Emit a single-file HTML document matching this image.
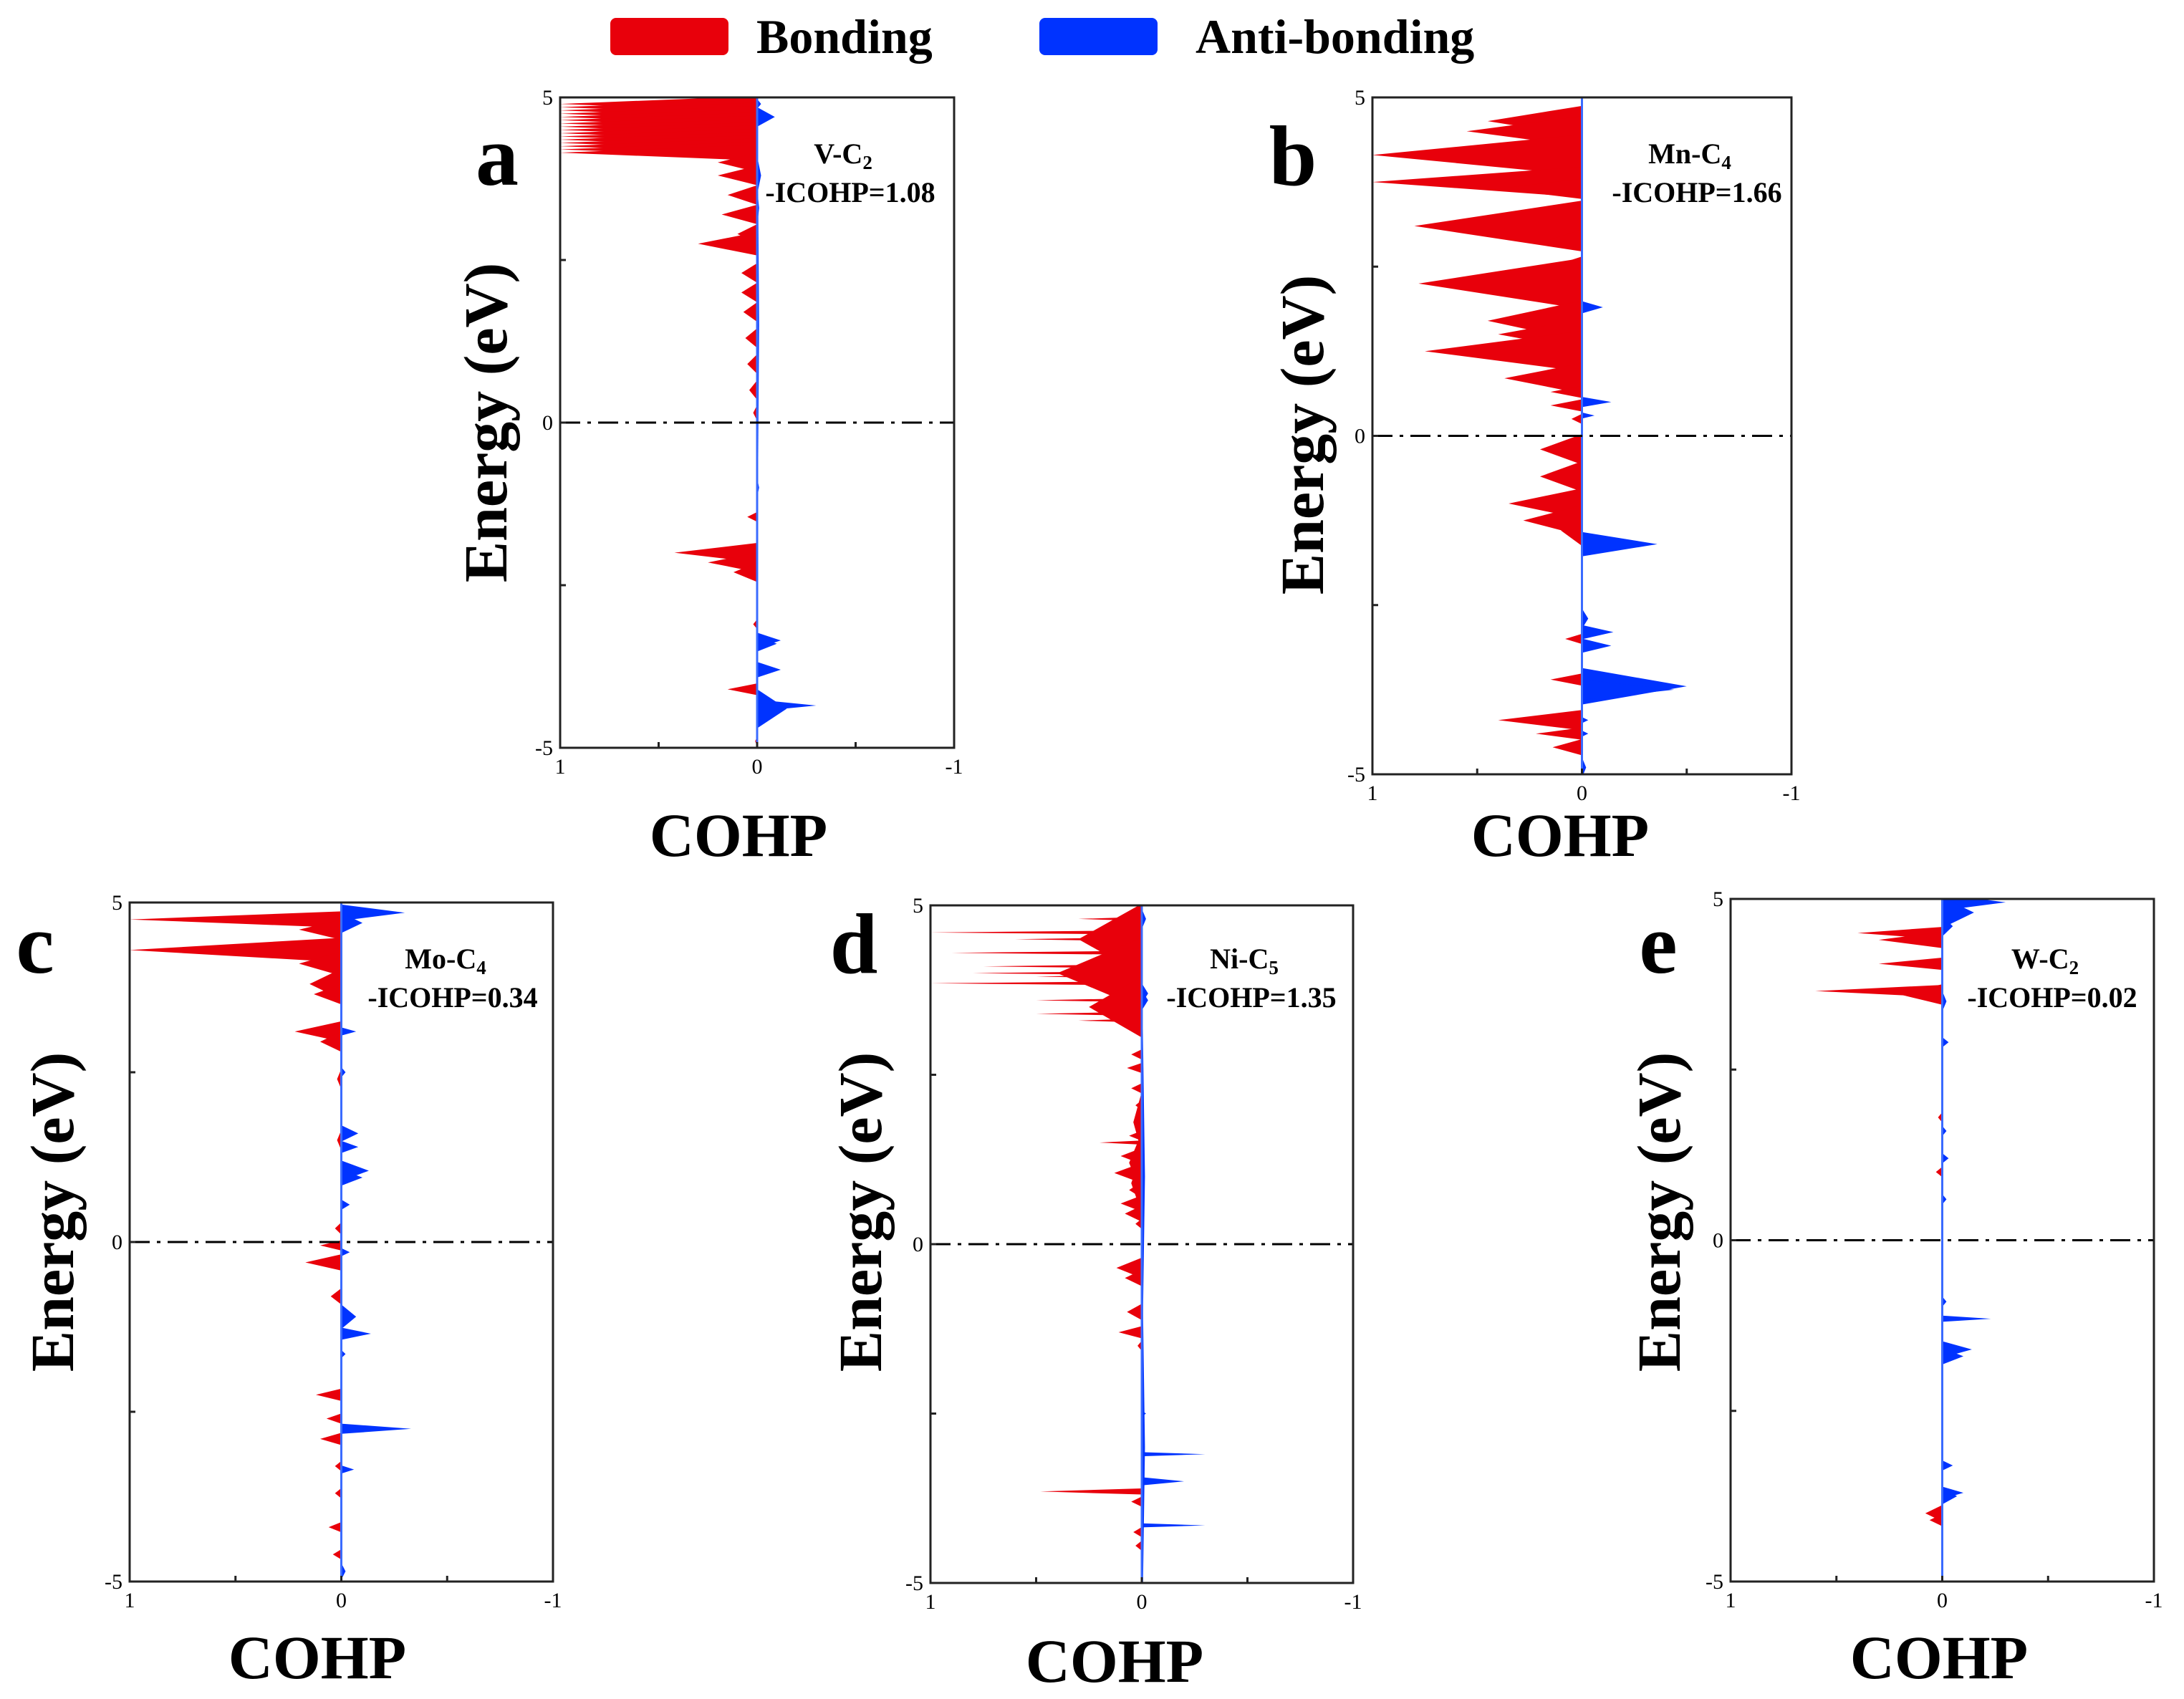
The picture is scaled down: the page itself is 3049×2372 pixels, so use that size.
<!DOCTYPE html>
<html><head><meta charset="utf-8"><style>
html,body{margin:0;padding:0;background:#fff;}
svg{display:block;}
text{font-family:"Liberation Serif",serif;}
</style></head><body>
<svg id="fig" width="3049" height="2372" viewBox="0 0 3049 2372" xmlns="http://www.w3.org/2000/svg">
  <g>
    <rect x="852" y="25" width="165" height="52" rx="8" fill="#e8000b"/>
    <text x="1056" y="74" font-size="68" font-weight="bold">Bonding</text>
    <rect x="1451" y="25" width="165" height="52" rx="8" fill="#0033ff"/>
    <text x="1669" y="74" font-size="68" font-weight="bold">Anti-bonding</text>
  </g>
</svg>
<script>
// ---- data (energy in eV, COHP value, half-width in eV) ----
const aRedE=[4.9,4.85,4.8,4.75,4.7,4.65,4.6,4.55,4.5,4.45,4.4,4.35,4.3,4.25,4.2,4.15,4.0,3.8,3.5,3.2,2.9,2.75,2.3,2.0,1.7,1.3,0.9,0.5,0.15,-1.45,-2.0,-2.15,-2.3,-3.1,-4.1,-4.9];
const aRedV=[1,1,1,1,1,1,1,1,1,1,1,1,1,1,1,1,0.2,0.2,0.15,0.18,0.1,0.3,0.08,0.08,0.07,0.06,0.05,0.04,0.02,0.05,0.42,0.25,0.12,0.02,0.15,0.01];
const aRedW=[0.08,0.08,0.08,0.08,0.08,0.08,0.08,0.08,0.08,0.08,0.08,0.08,0.08,0.08,0.08,0.08,0.1,0.1,0.1,0.1,0.1,0.12,0.1,0.1,0.1,0.1,0.1,0.1,0.08,0.05,0.1,0.1,0.1,0.05,0.06,0.05];
const aBlueE=[4.7,4.9,3.8,3.3,-1.0,-3.35,-3.4,-3.8,-4.35,-4.4,1.5];
const aBlueV=[-0.09,-0.02,-0.02,-0.01,-0.01,-0.12,-0.1,-0.12,-0.3,-0.15,-0.01];
const aBlueW=[0.1,0.05,0.2,0.2,0.1,0.08,0.08,0.08,0.06,0.2,3];

const bRedE=[4.65,4.5,4.15,3.75,3.65,3.1,2.9,2.5,2.25,1.7,1.5,1.25,0.85,0.65,0.45,0.25,-0.2,-0.6,-1.0,-1.25,-1.4,-3.0,-3.6,-4.2,-4.4,-4.6];
const bRedV=[0.45,0.55,1.0,1.0,0.4,0.8,0.15,0.15,0.78,0.45,0.4,0.75,0.37,0.15,0.15,0.05,0.2,0.2,0.35,0.28,0.1,0.08,0.15,0.4,0.22,0.14];
const bRedW=[0.15,0.15,0.2,0.15,0.1,0.25,0.1,0.1,0.25,0.2,0.15,0.2,0.15,0.06,0.06,0.05,0.15,0.15,0.15,0.15,0.15,0.05,0.06,0.1,0.06,0.08];
const bBlueE=[1.9,0.5,0.3,-1.6,-2.7,-2.9,-3.1,-3.7,-3.75,-4.2,-4.4,-4.9];
const bBlueV=[-0.1,-0.14,-0.06,-0.36,-0.03,-0.15,-0.14,-0.5,-0.44,-0.03,-0.03,-0.02];
const bBlueW=[0.06,0.05,0.03,0.12,0.1,0.07,0.07,0.18,0.1,0.03,0.03,0.1];

const cRedE=[4.75,4.6,4.3,4.1,3.8,3.65,3.1,2.95,2.4,1.5,0.2,-0.05,-0.3,-0.8,-2.25,-2.6,-2.9,-3.3,-3.7,-4.2,-4.6];
const cRedV=[1.0,0.2,1.0,0.2,0.15,0.13,0.22,0.1,0.02,0.02,0.03,0.1,0.17,0.05,0.12,0.07,0.1,0.03,0.03,0.06,0.04];
const cRedW=[0.08,0.1,0.12,0.12,0.15,0.1,0.1,0.1,0.1,0.1,0.06,0.05,0.08,0.08,0.06,0.05,0.06,0.05,0.05,0.05,0.05];
const cBlueE=[4.85,4.7,3.1,2.5,1.6,1.4,1.05,0.95,0.55,-0.15,-1.1,-1.35,-1.65,-2.75,-3.35,-4.85];
const cBlueV=[-0.3,-0.1,-0.07,-0.02,-0.08,-0.08,-0.13,-0.1,-0.04,-0.04,-0.07,-0.14,-0.02,-0.33,-0.06,-0.02];
const cBlueW=[0.08,0.1,0.04,0.05,0.08,0.06,0.1,0.08,0.05,0.04,0.12,0.06,0.04,0.05,0.04,0.08];

const dRedE=[4.8,4.6,4.5,4.3,4.1,4.0,3.95,3.85,3.6,3.4,3.3,4.5,4.0,3.5,2.8,2.6,2.3,2.05,1.6,1.5,1.3,1.05,0.8,0.6,0.45,0.3,-0.35,-0.5,-1.0,-1.3,-1.5,-3.65,-3.8,-4.25,-4.45,1.2,0.9,1.8];
const dRedV=[0.3,1.0,0.6,0.9,0.75,0.8,0.5,1.0,0.5,0.5,0.3,0.3,0.4,0.25,0.05,0.07,0.05,0.03,0.06,0.2,0.1,0.13,0.06,0.1,0.08,0.03,0.12,0.08,0.07,0.11,0.02,0.48,0.05,0.04,0.03,0.06,0.05,0.04];
const dRedW=[0.02,0.02,0.02,0.02,0.02,0.02,0.02,0.02,0.02,0.02,0.02,0.35,0.35,0.3,0.05,0.05,0.05,0.05,0.05,0.02,0.08,0.1,0.08,0.08,0.08,0.05,0.1,0.08,0.08,0.06,0.05,0.03,0.05,0.05,0.05,0.3,0.3,0.3];
const dBlueE=[4.8,3.7,3.6,-3.1,-3.5,-4.15,-2.5,1.0,-3.0];
const dBlueV=[-0.02,-0.03,-0.03,-0.3,-0.2,-0.3,-0.02,-0.015,-0.015];
const dBlueW=[0.1,0.1,0.1,0.02,0.04,0.02,0.03,2.2,2.2];

const eRedE=[4.5,4.4,4.05,3.65,3.6,1.8,1.0,-4.0,-4.1];
const eRedV=[0.4,0.3,0.3,0.6,0.2,0.02,0.03,0.08,0.06];
const eRedW=[0.06,0.08,0.06,0.06,0.1,0.05,0.05,0.08,0.06];
const eBlueE=[4.95,4.8,4.6,3.5,2.9,1.6,1.2,0.6,-0.9,-1.15,-1.6,-1.7,-3.3,-3.7,-3.75];
const eBlueV=[-0.3,-0.15,-0.05,-0.02,-0.03,-0.02,-0.03,-0.02,-0.02,-0.23,-0.14,-0.1,-0.05,-0.1,-0.07];
const eBlueW=[0.08,0.15,0.1,0.1,0.05,0.05,0.05,0.05,0.05,0.03,0.08,0.08,0.05,0.06,0.08];

const yTicks=[5,0,-5];
const xTicks=[1,0,-1];
const labels=["a","b","c","d","e"];
const bondNames=["V-C","Mn-C","Mo-C","Ni-C","W-C"];
const bondSubs=["2","4","4","5","2"];
const icohp=["1.08","1.66","0.34","1.35","0.02"];

// ---- layout (styling) ----
const WSCALE=1.5;
const layout=[
 {x0:782,x1:1332,y0:136,y1:1044,lx:694,ly:258,ex:677,ey:590,cx:1031,cy:1195,ax:1177,ay:228},
 {x0:1916,x1:2501,y0:136,y1:1081,lx:1805,ly:258,ex:1817,ey:607,cx:2178,cy:1195,ax:2359,ay:228},
 {x0:181,x1:772,y0:1260,y1:2208,lx:49,ly:1358,ex:72,ey:1692,cx:443,cy:2343,ax:622,ay:1352},
 {x0:1299,x1:1889,y0:1264,y1:2210,lx:1192,ly:1358,ex:1200,ey:1692,cx:1556,cy:2348,ax:1737,ay:1352},
 {x0:2416,x1:3007,y0:1255,y1:2208,lx:2315,ly:1358,ex:2315,ey:1692,cx:2707,cy:2343,ax:2855,ay:1352}
];
const series=[
 [aRedE,aRedV,aRedW,aBlueE,aBlueV,aBlueW],
 [bRedE,bRedV,bRedW,bBlueE,bBlueV,bBlueW],
 [cRedE,cRedV,cRedW,cBlueE,cBlueV,cBlueW],
 [dRedE,dRedV,dRedW,dBlueE,dBlueV,dBlueW],
 [eRedE,eRedV,eRedW,eBlueE,eBlueV,eBlueW]
];
const NS="http://www.w3.org/2000/svg";
const svg=document.getElementById('fig');
function mk(tag,attrs,parent){const el=document.createElementNS(NS,tag);for(const k in attrs)el.setAttribute(k,attrs[k]);(parent||svg).appendChild(el);return el;}

layout.forEach((L,i)=>{
  const g=mk('g',{});
  
  
  const X=v=>L.x0+(1-v)/2*(L.x1-L.x0);
  const Y=e=>L.y0+(5-e)/10*(L.y1-L.y0);
  const cp=mk('clipPath',{id:'clip'+i},g);
  mk('rect',{x:L.x0,y:L.y0,width:L.x1-L.x0,height:L.y1-L.y0},cp);
  const S=series[i];
  const drawPeaks=(E,V,W,color,name)=>{
    const sg=mk('g',{'clip-path':'url(#clip'+i+')'},g);
    
    
    E.forEach((e,k)=>{
      const w=W[k]*WSCALE;
      const p=mk('polygon',{points:`${X(0)},${Y(e+w)} ${X(V[k])},${Y(e)} ${X(0)},${Y(e-w)}`,fill:color},sg);
      
      
    });
  };
  drawPeaks(S[0],S[1],S[2],'#e8000b','bonding-series');
  drawPeaks(S[3],S[4],S[5],'#0033ff','antibonding-series');
  const zl=mk('line',{x1:X(0),x2:X(0),y1:L.y0,y2:L.y1,stroke:'#3a6bff','stroke-width':3},g);
  
  
  const fl=mk('line',{x1:L.x0,x2:L.x1,y1:Y(0),y2:Y(0),stroke:'#000','stroke-width':3,'stroke-dasharray':'28 10 5 10'},g);
  
  
  const fr=mk('rect',{x:L.x0,y:L.y0,width:L.x1-L.x0,height:L.y1-L.y0,fill:'none',stroke:'#222','stroke-width':3},g);
  
  
  [5,2.5,0,-2.5,-5].forEach(t=>{mk('line',{x1:L.x0,x2:L.x0+8,y1:Y(t),y2:Y(t),stroke:'#222','stroke-width':3},g);});
  [1,0.5,0,-0.5,-1].forEach(t=>{mk('line',{x1:X(t),x2:X(t),y1:L.y1,y2:L.y1-8,stroke:'#222','stroke-width':3},g);});
  yTicks.forEach(t=>{
    const tx=mk('text',{x:L.x0-10,y:Y(t)+10,'font-size':30,'text-anchor':'end'},g);
    tx.textContent=String(t);
    
    
  });
  xTicks.forEach(t=>{
    const tx=mk('text',{x:X(t),y:L.y1+36,'font-size':30,'text-anchor':'middle'},g);
    tx.textContent=String(t);
    
    
  });
  const pl=mk('text',{x:L.lx,y:L.ly,'font-size':120,'font-weight':'bold','text-anchor':'middle'},g);
  pl.textContent=labels[i];
  
  
  const yt=mk('text',{x:0,y:0,'font-size':86,'font-weight':'bold','text-anchor':'middle',transform:`translate(${L.ex+30},${L.ey}) rotate(-90)`},g);
  yt.textContent='Energy (eV)';
  
  
  const xt=mk('text',{x:L.cx,y:L.cy,'font-size':86,'font-weight':'bold','text-anchor':'middle'},g);
  xt.textContent='COHP';
  
  
  const an=mk('text',{x:L.ax,y:L.ay,'font-size':40,'font-weight':'bold','text-anchor':'middle'},g);
  
  
  an.appendChild(document.createTextNode(bondNames[i]));
  const sub=mk('tspan',{'font-size':27,dy:8},an);
  sub.textContent=bondSubs[i];
  const ic=mk('text',{x:L.ax+10,y:L.ay+54,'font-size':40,'font-weight':'bold','text-anchor':'middle'},g);
  ic.textContent='-ICOHP='+icohp[i];
  
  
});
</script>
</body></html>
